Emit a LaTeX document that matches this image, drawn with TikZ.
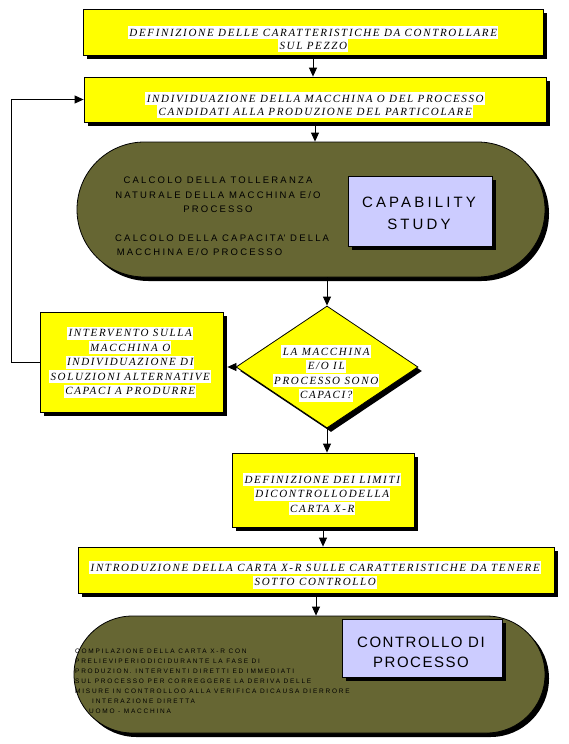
\documentclass[tikz,border=0pt]{standalone}
\usepackage{fontspec}
\setmainfont{Liberation Serif}
\newfontfamily\boxfont[LetterSpace=15]{Liberation Serif}
\newfontfamily\calcfont[LetterSpace=23]{Liberation Sans}
\newfontfamily\capfont[LetterSpace=21]{Liberation Sans}
\newfontfamily\ctrlfont[LetterSpace=10]{Liberation Sans}
\newfontfamily\notefont[LetterSpace=27]{Liberation Sans}
\usetikzlibrary{shapes.geometric,shapes.misc,shadows,arrows.meta}
\definecolor{boxyellow}{RGB}{255,255,0}
\definecolor{mudgreen}{RGB}{102,102,51}
\definecolor{lilac}{RGB}{204,204,255}
% white strip behind each line of the yellow boxes
\newcommand\hl[1]{{\setlength\fboxsep{0pt}\colorbox{white}{\rule[-3pt]{0pt}{13pt}\hspace{1.5pt}#1\hspace{1pt}}}}
\tikzset{
    shade/.style={drop shadow={shadow xshift=4pt, shadow yshift=-4pt, fill=black, opacity=1}},
    ybox/.style={rectangle, draw, line width=0.8pt, fill=boxyellow, shade, inner sep=0pt},
    pbox/.style={rectangle, draw, line width=0.8pt, fill=lilac, shade, inner sep=0pt},
    pill/.style={rounded rectangle, draw, line width=0.8pt, fill=mudgreen, shade, inner sep=0pt},
    ytext/.style={align=center, inner sep=0pt, font=\boxfont\itshape\fontsize{11}{13}\selectfont},
    ytextwide/.style={align=center, inner sep=0pt, font=\boxfont\itshape\fontsize{11}{14.5}\selectfont},
    arr/.style={-{Triangle[width=8pt,length=9pt]}, line width=0.8pt}
}
\begin{document}
\begin{tikzpicture}[x=1pt, y=1pt]
    \useasboundingbox (0,0) rectangle (568,-744);

    % boxes
    \node(def) [ybox, minimum width=460, minimum height=46] at (313,-32) {};
    \node(ind) [ybox, minimum width=462, minimum height=45] at (315,-99.5) {};
    \node(ell1) [pill, minimum width=468, minimum height=135] at (311,-209.5) {};
    \node(cap) [pbox, minimum width=144, minimum height=70] at (420,-211) {};
    \node(dia) [diamond, draw, line width=0.8pt, fill=boxyellow, shade, inner sep=0pt, minimum width=182, minimum height=122] at (327,-367) {};
    \node(fix) [ybox, minimum width=183, minimum height=100] at (131.5,-362) {};
    \node(lim) [ybox, minimum width=182, minimum height=74] at (323,-490) {};
    \node(intro) [ybox, minimum width=476, minimum height=46] at (316,-570) {};
    \node(ell2) [pill, minimum width=471, minimum height=117] at (309.5,-674.5) {};
    \node(ctrl) [pbox, minimum width=160, minimum height=58] at (422,-648) {};

    % texts
    \node(defT) [ytext] at (313,-39) {\hl{DEFINIZIONE DELLE CARATTERISTICHE DA CONTROLLARE}\\ \hl{SUL PEZZO}};
    \node(indT) [ytext] at (315,-105) {\hl{INDIVIDUAZIONE DELLA MACCHINA O DEL PROCESSO}\\ \hl{CANDIDATI ALLA PRODUZIONE DEL PARTICOLARE}};
    \node(calcA) [align=center, inner sep=0pt, font=\calcfont\fontsize{9.5}{14.5}\selectfont] at (218,-195) {CALCOLO DELLA TOLLERANZA\\ NATURALE DELLA MACCHINA E/O\\ PROCESSO};
    \node(calcB) [align=left, anchor=west, inner sep=0pt, font=\calcfont\fontsize{9.5}{14.5}\selectfont] at (115,-245) {CALCOLO DELLA CAPACITA\textquotesingle{} DELLA\\ \,MACCHINA E/O PROCESSO};
    \node(capT) [align=center, inner sep=0pt, font=\capfont\fontsize{15}{22}\selectfont] at (419,-213) {CAPABILITY\\ STUDY};
    \node(diaT) [ytextwide] at (326,-373.5) {\hl{LA MACCHINA}\\ \hl{E/O IL}\\ \hl{PROCESSO SONO}\\ \hl{CAPACI?}};
    \node(fixT) [ytextwide] at (130,-362) {\hl{INTERVENTO SULLA}\\ \hl{MACCHINA O}\\ \hl{INDIVIDUAZIONE DI}\\ \hl{SOLUZIONI ALTERNATIVE}\\ \hl{CAPACI A PRODURRE}};
    \node(limT) [ytextwide] at (322,-494) {\hl{DEFINIZIONE DEI LIMITI}\\ \hl{DICONTROLLODELLA}\\ \hl{CARTA X-R}};
    \node(introT) [ytextwide] at (315,-575) {\hl{INTRODUZIONE DELLA CARTA X-R SULLE CARATTERISTICHE DA TENERE}\\ \hl{SOTTO CONTROLLO}};
    \node(ctrlT) [align=center, inner sep=0pt, font=\ctrlfont\fontsize{15}{20}\selectfont] at (421,-652) {CONTROLLO DI\\ PROCESSO};
    \node(note) [align=left, anchor=west, inner sep=0pt, font=\notefont\fontsize{6.5}{10}\selectfont] at (75,-681) {COMPILAZIONE DELLA CARTA X-R CON\\ PRELIEVIPERIODICIDURANTE LA FASE DI\\ PRODUZION. INTERVENTI DIRETTI ED IMMEDIATI\\ SUL PROCESSO PER CORREGGERE LA DERIVA DELLE\\ MISURE IN CONTROLLOO ALLA VERIFICA DICAUSA DIERRORE\\ \hspace{17pt}INTERAZIONE DIRETTA\\ \hspace{14pt}UOMO - MACCHINA};

    % connectors
    \draw[arr] (def.south) -- (def.south |- ind.north);
    \draw[arr] (ind.south) -- (ind.south |- ell1.north);
    \draw[arr] (dia.north |- ell1.south) -- (dia.north);
    \draw[arr] (dia.south) -- (dia.south |- lim.north);
    \draw[arr] (lim.south) -- (lim.south |- intro.north);
    \draw[arr] (intro.south) -- (intro.south |- ell2.north);
    \draw[arr] (dia.west) -- ([xshift=4pt]dia.west -| fix.east);
    \draw[arr] (fix.west) -- ++(-28,0) |- (ind.west);
\end{tikzpicture}
\end{document}
